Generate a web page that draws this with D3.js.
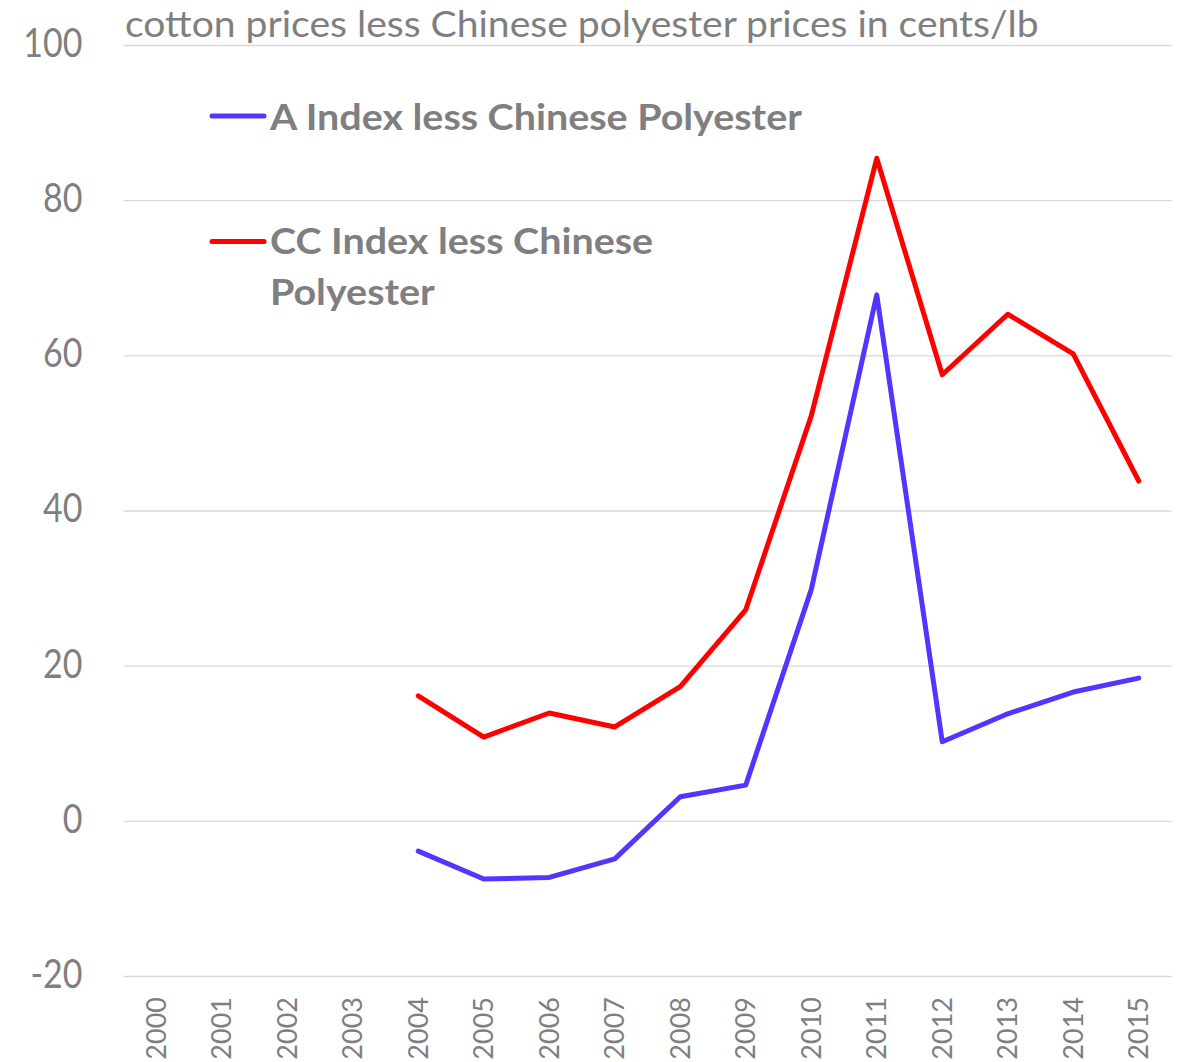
<!DOCTYPE html>
<html>
<head>
<meta charset="utf-8">
<script src="https://cdn.jsdelivr.net/npm/d3@7"></script>
<style>
  html, body { margin: 0; padding: 0; background: #ffffff; }
  svg { display: block; }
  text { font-family: Lato, "Open Sans", sans-serif; fill: #7f7f7f; }
</style>
</head>
<body>
<svg id="chart" width="1184" height="1062"></svg>
<script>
const years = ["2000","2001","2002","2003","2004","2005","2006","2007","2008","2009","2010","2011","2012","2013","2014","2015"];
const aIndexLessPoly = [null, null, null, null, -3.9, -7.5, -7.3, -4.9, 3.1, 4.6, 29.8, 67.8, 10.2, 13.8, 16.6, 18.4];
const ccIndexLessPoly = [null, null, null, null, 16.1, 10.8, 13.9, 12.1, 17.3, 27.2, 52.2, 85.4, 57.5, 65.3, 60.2, 43.8];
const yTickValues = [-20, 0, 20, 40, 60, 80, 100];
const titleText = "cotton prices less Chinese polyester prices in cents/lb";
const seriesNames = ["A Index less Chinese Polyester", "CC Index less Chinese Polyester"];
const seriesColors = ["#5236ff", "#ff0000"];

const CAP = 0.7165, XH = 0.5065; // Lato metrics
const svg = d3.select("#chart");

const x = d3.scaleBand().domain(years).range([123.5, 1171.5]).padding(0);
const y = d3.scaleLinear().domain([-20, 100]).range([976, 45]);
const cx = d => x(d) + x.bandwidth() / 2;

// fit font size so a text spans a target width, return font size
function fitText(sel, target) {
  const w = sel.node().getComputedTextLength();
  const fs = parseFloat(sel.attr("font-size"));
  const nfs = fs * target / w;
  sel.attr("font-size", nfs.toFixed(2));
  return nfs;
}

// gridlines + y labels
const yAxis = d3.axisLeft(y).tickValues(yTickValues).tickSize(-(1171.5 - 123.5)).tickPadding(40).tickFormat(d => String(d));
const gy = svg.append("g").attr("transform", "translate(123.5,0)").call(yAxis);
gy.select(".domain").remove();
gy.selectAll(".tick line").attr("stroke", "#d9d9d9").attr("stroke-width", 1.3);
const yfs = 34;
gy.selectAll(".tick text")
  .attr("font-size", yfs)
  .attr("fill", "#7f7f7f")
  .attr("font-family", "Lato, 'Open Sans', sans-serif")
  .attr("x", -41)
  .attr("dy", (CAP * yfs / 2).toFixed(2))
  .attr("transform", `translate(0,-3) scale(1,${(29 / (CAP * yfs)).toFixed(3)})`);

// x axis labels (rotated)
const xfs = 27;
const xAxis = d3.axisBottom(x).tickSize(0).tickPadding(0);
const gx = svg.append("g").attr("transform", "translate(0,976)").call(xAxis);
gx.select(".domain").remove();
gx.selectAll(".tick text")
  .attr("font-size", xfs)
  .attr("fill", "#7f7f7f")
  .attr("font-family", "Lato, 'Open Sans', sans-serif")
  .attr("transform", "rotate(-90)")
  .attr("text-anchor", "end")
  .attr("x", -21)
  .attr("y", 0)
  .attr("dy", (CAP * xfs / 2).toFixed(2));

// lines
const line = d3.line()
  .defined(d => d.v !== null)
  .x(d => cx(d.year))
  .y(d => y(d.v));

[aIndexLessPoly, ccIndexLessPoly].forEach((arr, i) => {
  const data = years.map((yr, k) => ({ year: yr, v: arr[k] }));
  svg.append("path")
    .datum(data)
    .attr("fill", "none")
    .attr("stroke", seriesColors[i])
    .attr("stroke-width", 5)
    .attr("stroke-linejoin", "round")
    .attr("stroke-linecap", "round")
    .attr("d", line);
});

// title
const t = svg.append("text")
  .attr("x", 0)
  .attr("y", 0)
  .attr("font-size", 36)
  .text(titleText);
const tfs = fitText(t, 914);
t.attr("transform", `translate(125,36.7) scale(1,${(18.7 / (XH * tfs)).toFixed(3)})`);

// legend
const lg = svg.append("g");
lg.append("line").attr("x1", 212).attr("x2", 264).attr("y1", 116).attr("y2", 116)
  .attr("stroke", seriesColors[0]).attr("stroke-width", 5).attr("stroke-linecap", "round");
const l1 = lg.append("text").attr("x", 0).attr("y", 0).attr("font-size", 36)
  .attr("font-weight", "bold").text(seriesNames[0]);
const lfs = fitText(l1, 532);
const ls = 26 / (CAP * lfs);
l1.attr("transform", `translate(270,129.5) scale(1,${ls.toFixed(3)})`);

lg.append("line").attr("x1", 212).attr("x2", 264).attr("y1", 241.5).attr("y2", 241.5)
  .attr("stroke", seriesColors[1]).attr("stroke-width", 5).attr("stroke-linecap", "round");
const l2 = lg.append("text").attr("x", 0).attr("y", 0).attr("font-size", lfs.toFixed(2))
  .attr("font-weight", "bold")
  .attr("transform", `translate(270,254) scale(1,${ls.toFixed(3)})`);
l2.append("tspan").attr("x", 0).text("CC Index less Chinese");
l2.append("tspan").attr("x", 0).attr("y", (51.5 / ls).toFixed(2)).text("Polyester");
</script>
</body>
</html>
